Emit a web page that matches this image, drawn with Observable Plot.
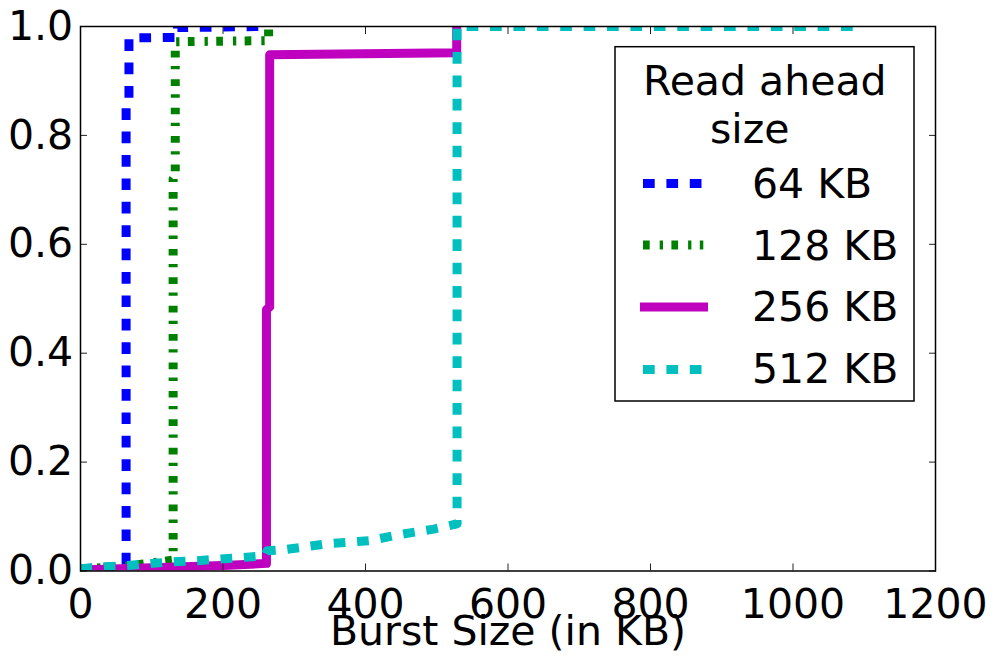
<!DOCTYPE html>
<html>
<head>
<meta charset="utf-8">
<script src="https://cdn.jsdelivr.net/npm/d3@7"></script>
<script src="https://cdn.jsdelivr.net/npm/@observablehq/plot@0.6"></script>
<style>
  html, body { margin: 0; padding: 0; background: white; }
  #wrap { position: relative; width: 997px; height: 659px; }
  #legend { position: absolute; left: 0; top: 0; pointer-events: none; }
</style>
</head>
<body>
<div id="wrap"></div>
<script>
// ---- data ----
const seriesNames = ["64 KB", "128 KB", "256 KB", "512 KB"];
const legendTitle = ["Read ahead", "size"];
const xLabel = "Burst Size (in KB)";
const xTicks = [0, 200, 400, 600, 800, 1000, 1200];
const yTicks = [0, 0.2, 0.4, 0.6, 0.8, 1.0];

const x64 = [0, 30, 64, 64, 68, 68, 136, 136, 256];
const y64 = [0.004, 0.006, 0.01, 0.855, 0.86, 0.979, 0.98, 0.998, 1.0];

const x128 = [0, 60, 130, 130, 133, 133, 264, 264, 266];
const y128 = [0.004, 0.008, 0.02, 0.72, 0.725, 0.972, 0.974, 1.0, 1.0];

const x256 = [0, 100, 200, 261, 261, 265.5, 265.5, 528, 528];
const y256 = [0.002, 0.006, 0.01, 0.014, 0.48, 0.485, 0.948, 0.952, 1.0];

const x512 = [0, 35, 67, 101, 130, 164, 196, 229, 259, 262, 285, 313, 346, 379, 407, 440, 467, 496, 524, 528.5, 528.5, 1092];
const y512 = [0.004, 0.008, 0.01, 0.014, 0.017, 0.019, 0.022, 0.025, 0.028, 0.037, 0.039, 0.044, 0.05, 0.053, 0.056, 0.065, 0.071, 0.077, 0.085, 0.087, 1.0, 1.0];

// ---- styles ----
const styles = [
  {stroke: "#0000ff", width: 9, dash: "11.7,11.7"},
  {stroke: "#008000", width: 9, dash: "6.7,10,3.3,8.4"},
  {stroke: "#bf00bf", width: 9, dash: null},
  {stroke: "#00bfbf", width: 9, dash: "11.7,11.7"}
];
const xs = [x64, x128, x256, x512];
const ys = [y64, y128, y256, y512];
const tables = xs.map((xa, i) => xa.map((x, j) => ({x, y: ys[i][j]})));

const FONT = "DejaVu Sans";
const FS = 41;

const lineMarks = tables.map((t, i) => Plot.line(t, {
  x: "x", y: "y",
  stroke: styles[i].stroke,
  strokeWidth: styles[i].width,
  strokeDasharray: styles[i].dash,
  strokeLinecap: "butt",
  strokeLinejoin: "round",
  curve: "linear",
  clip: true
}));

const chart = Plot.plot({
  width: 997,
  height: 659,
  marginLeft: 80,
  marginRight: 62,
  marginTop: 26,
  marginBottom: 88.5,
  style: {fontFamily: FONT, background: "white", color: "black"},
  x: {domain: [0, 1200]},
  y: {domain: [0, 1]},
  marks: [
    ...lineMarks,
    Plot.axisX(xTicks, {anchor: "bottom", tickSize: -7, tickPadding: 24.4, fontSize: FS, label: null, tickFormat: d => String(d), stroke: "#222", fill: "black"}),
    Plot.axisX(xTicks, {anchor: "top", tickSize: -7, fill: "none", label: null, stroke: "#222"}),
    Plot.axisY(yTicks, {anchor: "left", tickSize: -7, tickPadding: 14.3, fontSize: FS, label: null, tickFormat: d3.format(".1f"), stroke: "#222", fill: "black"}),
    Plot.axisY(yTicks, {anchor: "right", tickSize: -7, fill: "none", label: null, stroke: "#222"}),
    Plot.frame({stroke: "black", strokeWidth: 1.5}),
    Plot.text([xLabel], {text: d => d, frameAnchor: "bottom", dy: 61, fontSize: FS, fill: "black", lineAnchor: "middle"})
  ]
});

const wrap = document.getElementById("wrap");
wrap.appendChild(chart);

// ---- legend (overlay) ----
const ns = "http://www.w3.org/2000/svg";
const leg = document.createElementNS(ns, "svg");
leg.setAttribute("id", "legend");
leg.setAttribute("width", 997);
leg.setAttribute("height", 659);
wrap.appendChild(leg);
function el(name, attrs, text) {
  const e = document.createElementNS(ns, name);
  for (const k in attrs) e.setAttribute(k, attrs[k]);
  if (text != null) e.textContent = text;
  leg.appendChild(e);
  return e;
}
el("rect", {x: 615, y: 46.7, width: 299, height: 354.3, fill: "white", stroke: "black", "stroke-width": 1.5});
const titleX = [643, 710];
const titleY = [95, 143];
legendTitle.forEach((t, i) => el("text", {x: titleX[i], y: titleY[i], "font-family": FONT, "font-size": FS, fill: "black"}, t));
const sampleY = [183.5, 245, 307, 369.5];
const textY = [198, 260, 320.5, 383];
const sampleX = [[643, 702], [643, 703.3], [640, 708], [643, 702]];
seriesNames.forEach((name, i) => {
  const s = styles[i];
  const a = {x1: sampleX[i][0], x2: sampleX[i][1], y1: sampleY[i], y2: sampleY[i], stroke: s.stroke, "stroke-width": s.width, "stroke-linecap": "butt"};
  if (s.dash) a["stroke-dasharray"] = s.dash;
  el("line", a);
  el("text", {x: 752, y: textY[i], "font-family": FONT, "font-size": FS, fill: "black"}, name);
});
</script>
</body>
</html>
